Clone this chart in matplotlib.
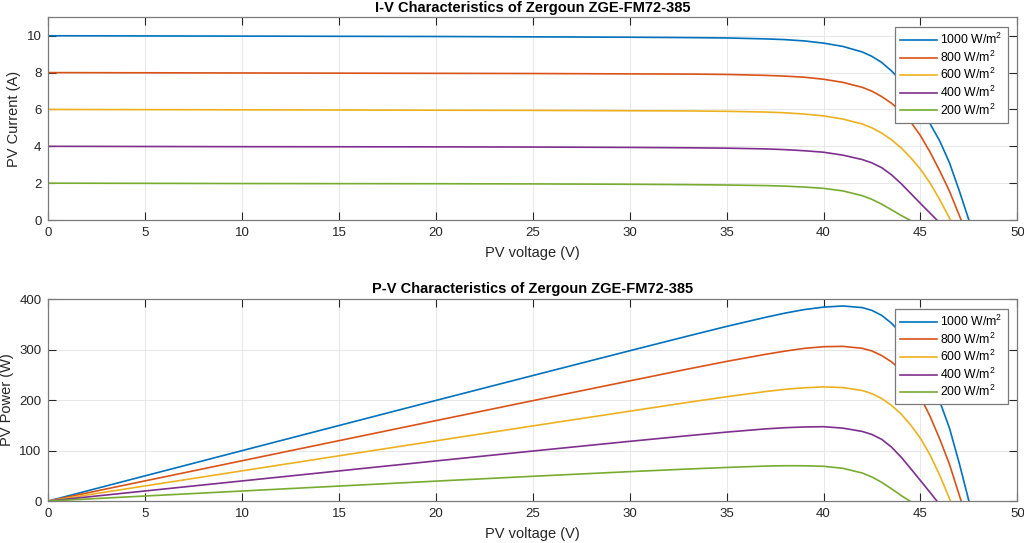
# I-V / P-V characteristics of a PV module at several irradiance levels
import numpy as np
import matplotlib
matplotlib.use('Agg')
import matplotlib.pyplot as plt
from matplotlib import rcParams

rcParams['font.family'] = ['Liberation Sans', 'DejaVu Sans']
rcParams['mathtext.fontset'] = 'custom'
rcParams['mathtext.rm'] = 'Liberation Sans'
rcParams['mathtext.it'] = 'Liberation Sans'

# readings from the curves: voltage (V) and current (A) for each irradiance
labels = ['1000 W/m$^2$', '800 W/m$^2$', '600 W/m$^2$', '400 W/m$^2$', '200 W/m$^2$']
colors = ['#0072BD', '#D95319', '#EDB120', '#7E2F8E', '#77AC30']

v_1000 = [0, 5, 10, 15, 20, 25, 30, 33, 35, 37, 38, 39, 40, 41, 42, 42.5, 43, 43.5,
          44, 44.5, 45, 45.5, 46, 46.5, 47, 47.5]
i_1000 = [10.00, 9.99, 9.98, 9.97, 9.96, 9.94, 9.92, 9.90, 9.88, 9.83, 9.79, 9.72, 9.60,
          9.42, 9.12, 8.88, 8.55, 8.10, 7.55, 6.90, 6.12, 5.22, 4.28, 3.10, 1.60, 0.0]

v_800 = [0, 5, 10, 15, 20, 25, 30, 33, 35, 37, 38, 39, 40, 41, 42, 42.5, 43, 43.5,
         44, 44.5, 45, 45.5, 46, 46.5, 47.1]
i_800 = [8.00, 7.99, 7.98, 7.97, 7.96, 7.95, 7.93, 7.92, 7.90, 7.85, 7.81, 7.75, 7.64,
         7.47, 7.20, 6.99, 6.70, 6.34, 5.90, 5.32, 4.58, 3.68, 2.66, 1.56, 0.0]

v_600 = [0, 5, 10, 15, 20, 25, 30, 33, 35, 37, 38, 39, 40, 41, 42, 42.5, 43, 43.5,
         44, 44.5, 45, 45.5, 46, 46.55]
i_600 = [6.00, 5.99, 5.98, 5.97, 5.96, 5.95, 5.93, 5.92, 5.90, 5.86, 5.82, 5.75, 5.65,
         5.48, 5.21, 5.00, 4.72, 4.36, 3.92, 3.38, 2.76, 2.00, 1.10, 0.0]

v_400 = [0, 5, 10, 15, 20, 25, 30, 33, 35, 37, 38, 39, 40, 41, 42, 42.5, 43, 43.5,
         44, 44.5, 45, 45.5, 45.85]
i_400 = [4.00, 3.99, 3.98, 3.975, 3.97, 3.96, 3.94, 3.92, 3.90, 3.86, 3.82, 3.76, 3.68,
         3.52, 3.28, 3.10, 2.84, 2.46, 1.98, 1.44, 0.90, 0.37, 0.0]

v_200 = [0, 5, 10, 15, 20, 25, 30, 33, 35, 37, 38, 39, 40, 41, 42, 42.5, 43, 43.5,
         44, 44.45]
i_200 = [2.00, 1.99, 1.98, 1.975, 1.97, 1.96, 1.94, 1.92, 1.90, 1.87, 1.84, 1.79, 1.72,
         1.58, 1.32, 1.12, 0.86, 0.56, 0.25, 0.0]

volts = [v_1000, v_800, v_600, v_400, v_200]
amps = [i_1000, i_800, i_600, i_400, i_200]

fig = plt.figure(figsize=(10.24, 5.43), dpi=100)
ax1 = fig.add_axes([0.0472, 0.5948, 0.9463, 0.3733])
ax2 = fig.add_axes([0.0472, 0.0773, 0.9463, 0.3720])


def style_axes(ax):
    ax.set_xlim(0, 50)
    ax.set_xticks(range(0, 51, 5))
    ax.grid(True, color='#e3e3e3', linewidth=0.6)
    ax.set_axisbelow(True)
    ax.tick_params(direction='in', length=6, width=0.8, top=True, right=True,
                   labelsize=9.5, colors='#262626', pad=5)
    for s in ax.spines.values():
        s.set_color('#7a7a7a')
        s.set_linewidth(0.9)
    ax.set_xlabel('PV voltage (V)', fontsize=10.5, color='#262626', labelpad=5)


# I-V curves
for v, i, lab, c in zip(volts, amps, labels, colors):
    ax1.plot(v, i, color=c, linewidth=1.2, label=lab)
style_axes(ax1)
ax1.set_ylim(0, 11)
ax1.set_yticks(range(0, 11, 2))
ax1.set_ylabel('PV Current (A)', fontsize=10.5, color='#262626', labelpad=4)
ax1.set_title('I-V Characteristics of Zergoun ZGE-FM72-385', fontsize=10.5,
              fontweight='bold', pad=4)

# P-V curves (power = voltage x current)
for v, i, lab, c in zip(volts, amps, labels, colors):
    ax2.plot(v, np.array(v) * np.array(i), color=c, linewidth=1.2, label=lab)
style_axes(ax2)
ax2.set_ylim(0, 400)
ax2.set_yticks(range(0, 401, 100))
ax2.set_ylabel('PV Power (W)', fontsize=10.5, color='#262626', labelpad=4)
ax2.set_title('P-V Characteristics of Zergoun ZGE-FM72-385', fontsize=10.5,
              fontweight='bold', pad=4)

for ax in (ax1, ax2):
    leg = ax.legend(loc='upper right', fontsize=8.8, fancybox=False, framealpha=1,
                    edgecolor='#7a7a7a', borderaxespad=0.8, handlelength=3.0,
                    handletextpad=0.3, labelspacing=0.2, borderpad=0.4)
    leg.get_frame().set_linewidth(0.9)

plt.savefig('out.png', dpi=100)
